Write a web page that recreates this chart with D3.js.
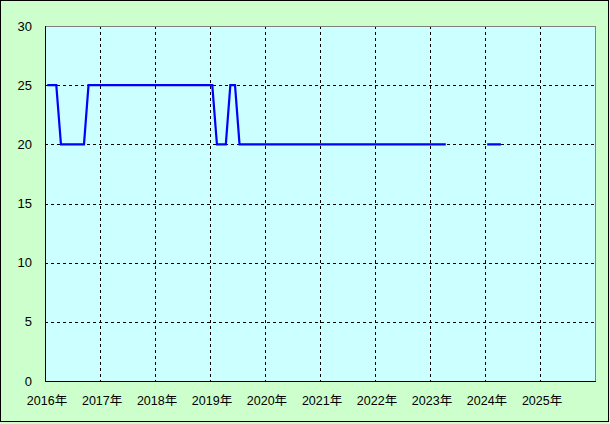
<!DOCTYPE html>
<html><head><meta charset="utf-8">
<script src="https://cdn.jsdelivr.net/npm/d3@7"></script>
<style>html,body{margin:0;padding:0;background:#fff;}svg{display:block;}</style>
</head><body>
<svg id="c" width="610" height="424"></svg>
<script>
// Data: monthly values per year (null = no data)
const years = [2016, 2017, 2018, 2019, 2020, 2021, 2022, 2023, 2024];
const values2016 = [25,25,25,20,20,20,20,20,20,25,25,25];
const values2017 = [25,25,25,25,25,25,25,25,25,25,25,25];
const values2018 = [25,25,25,25,25,25,25,25,25,25,25,25];
const values2019 = [25,20,20,20,25,25,20,20,20,20,20,20];
const values2020 = [20,20,20,20,20,20,20,20,20,20,20,20];
const values2021 = [20,20,20,20,20,20,20,20,20,20,20,20];
const values2022 = [20,20,20,20,20,20,20,20,20,20,20,20];
const values2023 = [20,20,20,20,null,null,null,null,null,null,null,null];
const values2024 = [20,20,20,20];
const xTickLabels = ["2016年","2017年","2018年","2019年","2020年","2021年","2022年","2023年","2024年","2025年"];
const yTicks = [0,5,10,15,20,25,30];

const yearValues = [values2016, values2017, values2018, values2019, values2020, values2021, values2022, values2023, values2024];
const data = [];
years.forEach((y, i) => yearValues[i].forEach((v, m) => data.push({date: new Date(y, m, 16), v})));

const W = 610, H = 424;
const L = 45, R = 595, T = 26, B = 381;
const svg = d3.select("#c");
const font = "'Liberation Sans', 'Noto Sans CJK JP', sans-serif";

svg.append("rect").attr("x",0).attr("y",0).attr("width",W).attr("height",H).attr("fill","#ccffcc");
svg.append("rect").attr("x",0.5).attr("y",0.5).attr("width",608).attr("height",421)
  .attr("fill","none").attr("stroke","#000");

const x = d3.scaleTime().domain([new Date(2016,0,1), new Date(2026,0,1)]).range([L, R]);
const y = d3.scaleLinear().domain([0,30]).range([B, T]);

svg.append("rect").attr("x",L).attr("y",T).attr("width",R-L).attr("height",B-T).attr("fill","#ccffff");

// grid
const g = svg.append("g").attr("stroke","#000").attr("stroke-dasharray","3,3").attr("stroke-width",1);
for (let yr = 2017; yr <= 2025; yr++) {
  const xx = Math.round(x(new Date(yr,0,1))) + 0.5;
  g.append("line").attr("x1",xx).attr("x2",xx).attr("y1",T).attr("y2",B);
}
yTicks.filter(t => t > 0 && t < 30).forEach(t => {
  const yy = Math.round(y(t)) + 0.5;
  g.append("line").attr("x1",L).attr("x2",R).attr("y1",yy).attr("y2",yy);
});

// borders
svg.append("line").attr("x1",L).attr("x2",R+0.5).attr("y1",T+0.5).attr("y2",T+0.5).attr("stroke","#808080");
svg.append("line").attr("x1",R+0.5).attr("x2",R+0.5).attr("y1",T).attr("y2",B).attr("stroke","#808080");
svg.append("line").attr("x1",L+0.5).attr("x2",L+0.5).attr("y1",T).attr("y2",B+1).attr("stroke","#000");
svg.append("line").attr("x1",L).attr("x2",R+1).attr("y1",B+0.5).attr("y2",B+0.5).attr("stroke","#000");

// line
const line = d3.line().defined(d => d.v != null).x(d => x(d.date)).y(d => y(d.v));
svg.append("path").datum(data).attr("d", line).attr("fill","none")
  .attr("stroke","#0000ff").attr("stroke-width",2.2);

// y labels
yTicks.forEach(t => {
  svg.append("text").attr("x",32).attr("y",y(t)+4.5).attr("text-anchor","end")
    .attr("font-family",font).attr("font-size","13px").attr("fill","#000").text(t);
});
// x labels
xTickLabels.forEach((s, i) => {
  svg.append("text").attr("x", x(new Date(2016+i,0,1)) + 2).attr("y", 405).attr("text-anchor","middle")
    .attr("font-family",font).attr("font-size","12.5px").attr("fill","#000").text(s);
});
</script>
</body></html>
